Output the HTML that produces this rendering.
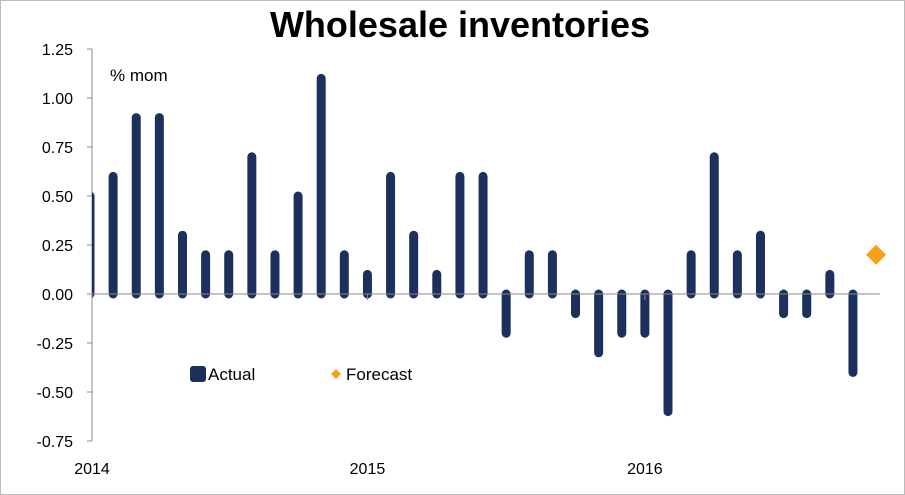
<!DOCTYPE html>
<html><head><meta charset="utf-8"><style>
body{margin:0;background:#fff}
svg{display:block;font-family:"Liberation Sans",sans-serif}
</style></head><body>
<svg id="c" width="905" height="495" viewBox="0 0 905 495">
<rect x="0.5" y="0.5" width="904" height="494" fill="#fff" stroke="#bbb"/>
<text x="460" y="37" text-anchor="middle" font-size="36" font-weight="bold">Wholesale inventories</text>
<text x="110" y="81" font-size="17">% mom</text>
<defs><clipPath id="pc"><rect x="92" y="0" width="813" height="495"/></clipPath></defs>
<g id="yaxis"></g>
<g id="bars" clip-path="url(#pc)"></g>
<g id="xaxis"></g>
<g>
<rect x="190" y="366" width="16" height="16" rx="3" fill="#1B305C"/>
<text x="208" y="380" font-size="17">Actual</text>
<path d="M336 369 L341 374 L336 379 L331 374 Z" fill="#F7A11A"/>
<text x="346" y="380" font-size="17">Forecast</text>
</g>
</svg>
<script>
const actual=[0.5,0.6,0.9,0.9,0.3,0.2,0.2,0.7,0.2,0.5,1.1,0.2,0.1,0.6,0.3,0.1,0.6,0.6,-0.2,0.2,0.2,-0.1,-0.3,-0.2,-0.2,-0.6,0.2,0.7,0.2,0.3,-0.1,-0.1,0.1,-0.4];
const forecast=[0.2];
const yTicks=[1.25,1.00,0.75,0.50,0.25,0.00,-0.25,-0.50,-0.75];
const yearLabels=["2014","2015","2016"];
const yearIdx=[0,12,24];
const NS="http://www.w3.org/2000/svg";
const y=v=>294-v*196;
const x=i=>90+i*23.12;
const svg=document.getElementById('c');
function mk(t,a,p){const e=document.createElementNS(NS,t);for(const k in a)e.setAttribute(k,a[k]);p.appendChild(e);return e;}
const ya=document.getElementById('yaxis');
const al=mk('line',{x1:92,y1:y(1.25),x2:92,y2:y(-0.75),stroke:'#888'},ya);


yTicks.forEach(v=>{
 const t=mk('line',{x1:87,x2:92,y1:y(v),y2:y(v),stroke:'#888'},ya);
 
 
 const l=mk('text',{x:73,y:y(v)+6,'text-anchor':'end','font-size':16},ya);
 l.textContent=v.toFixed(2);
 
 
});
const bg=document.getElementById('bars');
actual.forEach((v,i)=>{
 const b=mk('line',{x1:x(i),x2:x(i),y1:y(0),y2:y(v),stroke:'#1B305C','stroke-width':9,'stroke-linecap':'round'},bg);
 
 
});
const xa=document.getElementById('xaxis');
const zl=mk('line',{x1:92,x2:880,y1:y(0),y2:y(0),stroke:'#888'},xa);


yearLabels.forEach((s,k)=>{
 const xi=x(yearIdx[k])+(k?0:2);
 const t=mk('line',{x1:xi,x2:xi,y1:y(0),y2:y(0)+6,stroke:'#888'},xa);
 
 
 const l=mk('text',{x:xi,y:474,'text-anchor':'middle','font-size':16},xa);
 l.textContent=s;
 
 
});
forecast.forEach((v,j)=>{
 const cx=x(actual.length+j),cy=y(v);
 const d=mk('path',{d:`M${cx} ${cy-10} L${cx+10} ${cy} L${cx} ${cy+10} L${cx-10} ${cy} Z`,fill:'#F7A11A'},svg);
 
 
});
</script>
</body></html>
